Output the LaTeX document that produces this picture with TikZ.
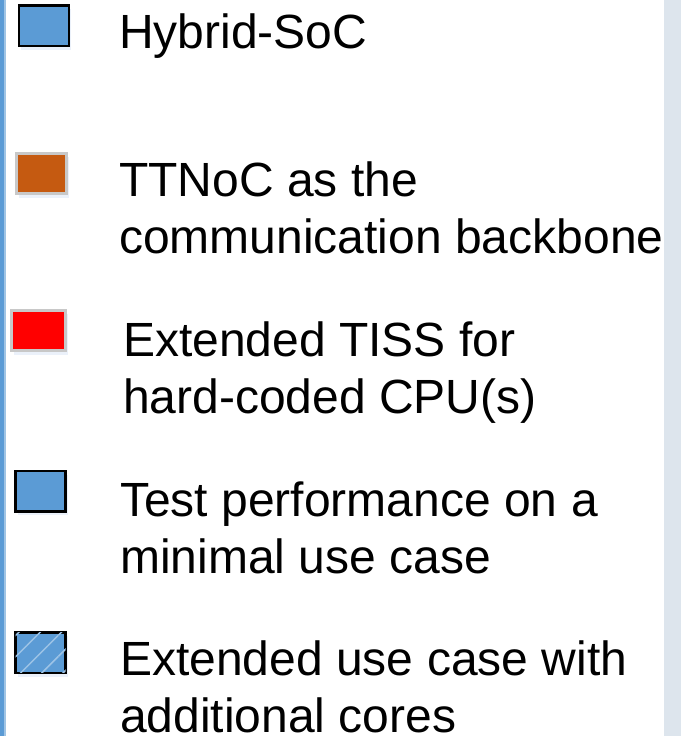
\documentclass[tikz,border=0pt]{standalone}
\usepackage{fontspec}
\setmainfont{Liberation Sans}
\usetikzlibrary{patterns.meta, shadows}
\definecolor{legend-blue}{RGB}{91,155,213}
\definecolor{legend-orange}{RGB}{197,90,17}
\definecolor{legend-red}{RGB}{255,0,0}
\definecolor{legend-hatch}{RGB}{157,195,230}
\definecolor{legend-rim}{RGB}{200,200,200}
\definecolor{panel-side}{RGB}{221,229,237}
\definecolor{panel-edge}{RGB}{160,196,228}
\definecolor{box-shadow}{RGB}{215,228,245}

\begin{document}
\begin{tikzpicture}[
  x=1pt, y=-1pt,
  swatch/.style={draw=black, line width=2.5pt, inner sep=0pt, minimum width=50pt, minimum height=40.5pt,
    drop shadow={shadow xshift=2pt, shadow yshift=-4pt, fill=box-shadow, opacity=.5}},
  rimmed/.style={draw=legend-rim, line width=3pt},
  caption/.style={anchor=base west, inner sep=0pt, align=left, font=\fontsize{48}{57}\selectfont},
]
  \useasboundingbox (0,0) rectangle (681,736);

  % Panel edges
  \fill[legend-blue] (0,0) rectangle (4,736);
  \fill[panel-edge] (4,0) rectangle (6,736);
  \fill[panel-side] (664,0) rectangle (681,736);

  % Swatches
  \node[swatch, fill=legend-blue] (hybrid) at (44,25.5) {};
  \node[swatch, rimmed, fill=legend-orange] (ttnoc) at (41.5,173.5) {};
  \node[swatch, rimmed, fill=legend-red, minimum width=54pt] (tiss) at (38.5,330.5) {};
  \node[swatch, fill=legend-blue] (minimal) at (40.5,491) {};
  \node[swatch, fill=legend-blue,
    postaction={pattern={Lines[angle=45, distance=15pt, line width=1.5pt]}, pattern color=legend-hatch}] (extended) at (40.5,652.5) {};

  % Captions (two-line ones sit on their last baseline)
  \node[caption] (hybrid-text) at (119,48) {Hybrid-SoC};
  \node[caption] (ttnoc-text) at (119,253) {TTNoC as the\\communication backbone};
  \node[caption] (tiss-text) at (123,413) {Extended TISS for\\hard-coded CPU(s)};
  \node[caption] (minimal-text) at (120,573) {Test performance on a\\minimal use case};
  \node[caption] (extended-text) at (120,732) {Extended use case with\\additional cores};
\end{tikzpicture}
\end{document}
